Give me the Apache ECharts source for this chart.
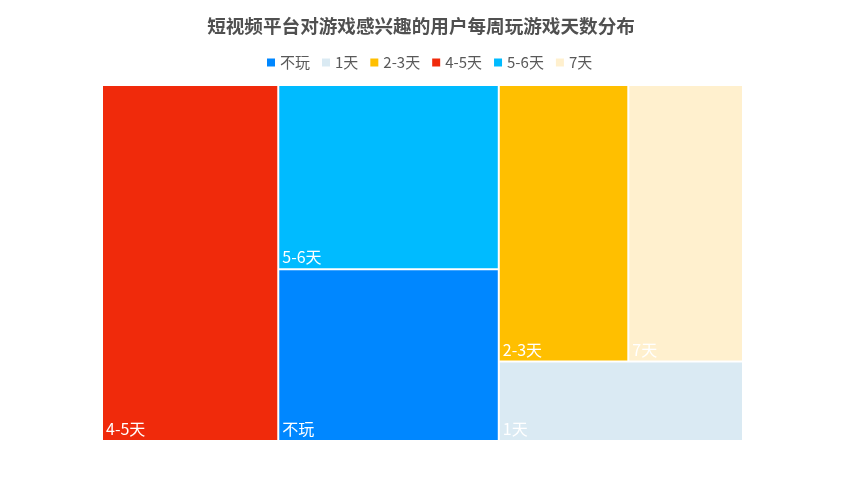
<!DOCTYPE html>
<html>
<head>
<meta charset="utf-8">
<script src="https://cdn.jsdelivr.net/npm/echarts@6/dist/echarts.min.js"></script>
<style>
html,body{margin:0;padding:0;background:#fff;}
#main{width:842px;height:492px;}
</style>
</head>
<body>
<div id="main"></div>
<script>
// ---- data ----
const titleText = '短视频平台对游戏感兴趣的用户每周玩游戏天数分布';
const categories = ['不玩', '1天', '2-3天', '4-5天', '5-6天', '7天'];
const shares = [16.6, 8.5, 15.7, 27.5, 17.8, 13.9];
const colors = ['#0087FF', '#DAEAF3', '#FFBF00', '#F02A0B', '#00BBFF', '#FFF0CE'];
// grouping of the cells (as arranged in the reference treemap)
const grouping = ['4-5天', [['5-6天', '不玩'], [['2-3天', '7天'], '1天']]];

function leaf(name) {
  const i = categories.indexOf(name);
  return { name: name, value: shares[i], itemStyle: { color: colors[i] } };
}
function build(node) {
  if (typeof node === 'string') return leaf(node);
  return { name: '', children: node.map(build) };
}
const treeData = grouping.map(build);

const chart = echarts.init(document.getElementById('main'));
chart.setOption({
  animation: false,
  backgroundColor: '#fff',
  textStyle: { fontFamily: 'Noto Sans CJK SC, sans-serif' },
  title: {
    text: titleText,
    left: 'center',
    top: 12,
    textStyle: { fontSize: 18.6, fontWeight: 'bold', color: '#505050', fontFamily: 'Noto Sans CJK SC' }
  },
  legend: {
    top: 50,
    left: 262,
    icon: 'rect',
    itemWidth: 8,
    itemHeight: 8,
    itemGap: 12,
    textStyle: { fontSize: 15, color: '#595959', fontFamily: 'Noto Sans CJK SC' },
    data: categories
  },
  series: [
    {
      type: 'treemap',
      left: 103,
      top: 86,
      width: 639,
      height: 354,
      roam: false,
      nodeClick: false,
      sort: false,
      squareRatio: 1.25,
      breadcrumb: { show: false },
      itemStyle: { borderWidth: 0, gapWidth: 2, borderColor: '#ffffff' },
      label: {
        show: true,
        position: 'insideBottomLeft',
        distance: 3,
        padding: 0,
        color: '#ffffff',
        fontSize: 16,
        fontFamily: 'Noto Sans CJK SC',
        formatter: '{b}'
      },
      upperLabel: { show: false },
      data: treeData
    },
    {
      type: 'pie',
      silent: true,
      radius: 0,
      center: [-100, -100],
      label: { show: false },
      labelLine: { show: false },
      data: categories.map((c, i) => ({ name: c, value: shares[i], itemStyle: { color: colors[i] } }))
    }
  ]
});
</script>
</body>
</html>
